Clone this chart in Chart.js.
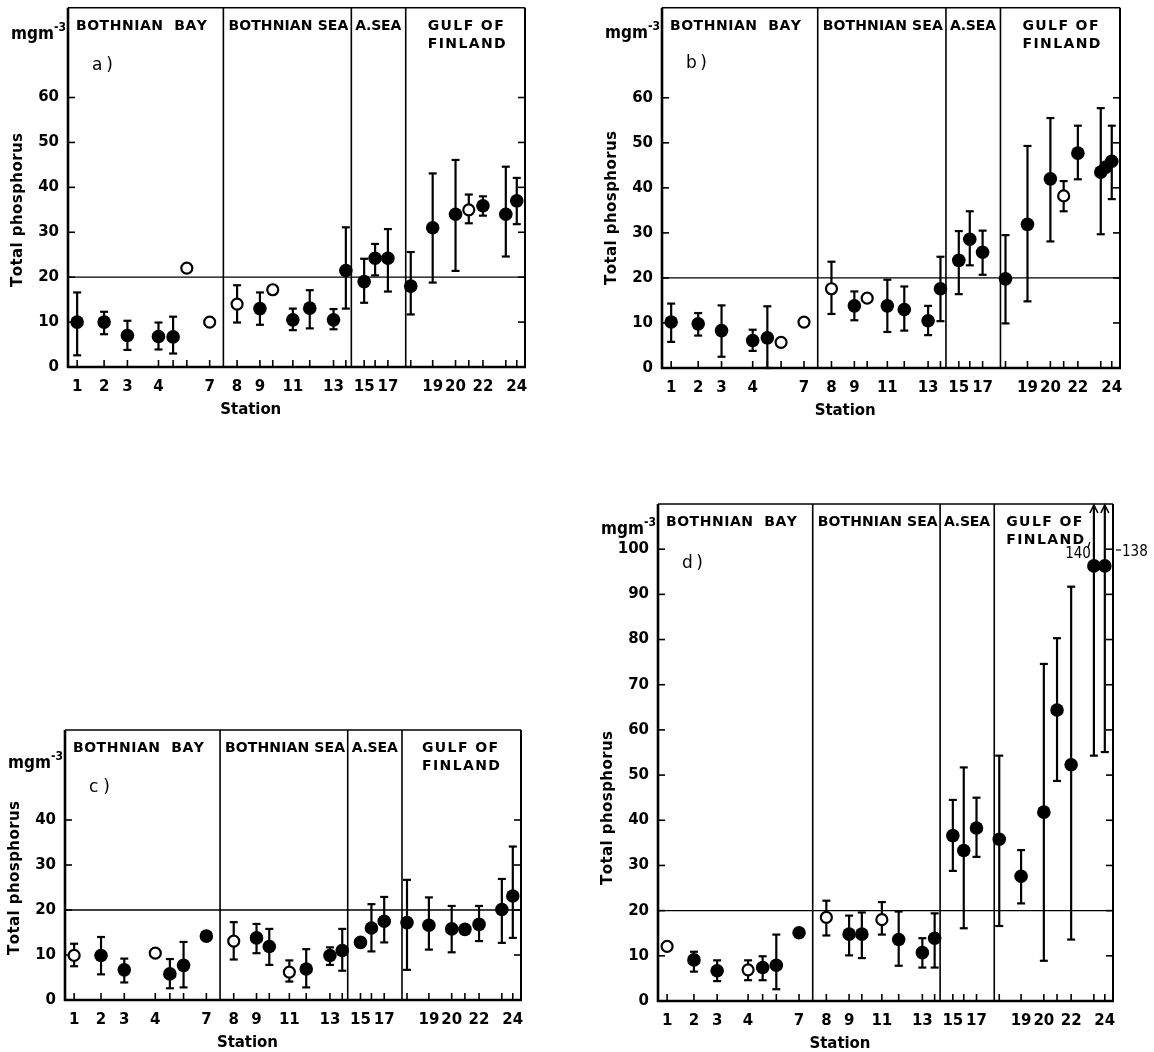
<!DOCTYPE html>
<html>
<head>
<meta charset="utf-8">
<script src="https://cdn.jsdelivr.net/npm/chart.js@4.4.1/dist/chart.umd.min.js"></script>
<style>
  html, body { margin: 0; padding: 0; background: #fff; }
  body { width: 1154px; height: 1052px; position: relative; overflow: hidden; }
  canvas { position: absolute; }
</style>
</head>
<body>
<canvas id="ca" width="580" height="430" style="left:0px;top:0px"></canvas>
<canvas id="cb" width="574" height="430" style="left:580px;top:0px"></canvas>
<canvas id="cc" width="580" height="332" style="left:0px;top:720px"></canvas>
<canvas id="cd" width="574" height="562" style="left:580px;top:490px"></canvas>
<script>
// Sampling stations along the transect and where each sits on the distance axis (0-100)
const stations = [1, 2, 3, 4, 5, 6, 7, 8, 9, 10, 11, 12, 13, 14, 15, 16, 17, 18, 19, 20, 21, 22, 23, 24];
const stationPos = [2.0, 7.9, 13.0, 19.8, 23.0, 26.0, 31.0, 37.0, 42.0, 44.8, 49.2, 52.9, 58.1, 60.8,
                    64.8, 67.2, 70.0, 75.0, 79.8, 84.8, 87.7, 90.8, 95.8, 98.2];
const labelledStations = [1, 2, 3, 4, 7, 8, 9, 11, 13, 15, 17, 19, 20, 22, 24];
// Boundaries between the basins on the distance axis
const basinBounds = [34.0, 62.0, 73.9];
const basinNames = ['BOTHNIAN  BAY', 'BOTHNIAN SEA', 'A.SEA', 'GULF OF', 'FINLAND'];
const refLevel = 20;

// a) total phosphorus, mg m-3 (mean, lower and upper bar ends; 1 = open symbol)
const aMean = [10.0, 10.0, 7.0, 6.8, 6.7, 22.0, 10.0, 14.0, 13.0, 17.2, 10.5, 13.1, 10.5, 21.5,
               19.0, 24.2, 24.2, 18.0, 31.0, 34.0, 35.0, 35.9, 34.0, 37.0];
const aLow  = [2.6, 7.3, 3.8, 3.9, 3.0, null, null, 9.9, 9.4, null, 8.2, 8.6, 8.4, 13.0,
               14.3, 20.4, 16.8, 11.7, 18.8, 21.4, 32.0, 33.7, 24.6, 31.8];
const aHigh = [16.6, 12.3, 10.3, 9.9, 11.2, null, null, 18.2, 16.6, null, 13.0, 17.1, 12.9, 31.1,
               24.1, 27.4, 30.7, 25.6, 43.1, 46.1, 38.4, 38.0, 44.6, 42.1];
const aOpen = [0, 0, 0, 0, 0, 1, 1, 1, 0, 1, 0, 0, 0, 0, 0, 0, 0, 0, 0, 0, 1, 0, 0, 0];

// b)
const bMean = [10.2, 9.8, 8.3, 6.1, 6.7, 5.7, 10.2, 17.6, 13.8, 15.5, 13.8, 13.0, 10.5, 17.6,
               23.9, 28.6, 25.7, 19.8, 31.9, 42.0, 38.2, 47.7, 43.5, 45.9];
const bLow  = [5.8, 7.2, 2.5, 3.8, 0.0, null, null, 12.0, 10.6, null, 8.0, 8.3, 7.3, 10.4,
               16.4, 22.8, 20.7, 9.9, 14.8, 28.1, 34.8, 41.9, 29.7, 37.5];
const bHigh = [14.3, 12.2, 13.9, 8.5, 13.7, null, null, 23.6, 17.0, null, 19.6, 18.1, 13.8, 24.7,
               30.4, 34.8, 30.5, 29.5, 49.3, 55.5, 41.5, 53.8, 57.7, 53.8];
const bOpen = [0, 0, 0, 0, 0, 1, 1, 1, 0, 1, 0, 0, 0, 0, 0, 0, 0, 0, 0, 0, 1, 0, 0, 0];
// an additional sample between stations 23 and 24
const bExtraPos  = [96.9];
const bExtraMean = [44.6];

// c)
const cMean = [9.9, 9.9, 6.7, 10.4, 5.8, 7.7, 14.2, 13.1, 13.8, 11.9, 6.2, 6.9, 9.9, 11.0,
               12.8, 16.0, 17.5, 17.2, 16.6, 15.8, 15.7, 16.8, 20.1, 23.1];
const cLow  = [7.5, 5.7, 3.9, null, 2.6, 2.8, null, 9.0, 10.4, 7.8, 4.1, 2.8, 7.8, 6.5,
               null, 10.8, 12.8, 6.7, 11.2, 10.6, null, 13.1, 12.7, 13.8];
const cHigh = [12.5, 14.0, 9.2, null, 9.1, 12.9, null, 17.3, 16.9, 15.8, 8.8, 11.3, 11.7, 15.8,
               null, 21.3, 22.9, 26.7, 22.8, 20.9, null, 20.9, 26.9, 34.1];
const cOpen = [1, 0, 0, 1, 0, 0, 0, 1, 0, 0, 1, 0, 0, 0, 0, 0, 0, 0, 0, 0, 0, 0, 0, 0];

// d)
const dMean = [12.1, 9.1, 6.7, 6.9, 7.4, 7.9, 15.1, 18.5, 14.8, 14.8, 18.0, 13.6, 10.7, 13.9,
               36.6, 33.3, 38.3, 35.8, 27.6, 41.8, 64.4, 52.3, 96.3, 96.3];
const dLow  = [null, 6.5, 4.4, 4.6, 4.6, 2.6, null, 14.5, 10.1, 9.5, 14.7, 7.8, 7.4, 7.4,
               28.8, 16.1, 31.9, 16.6, 21.6, 8.9, 48.7, 13.6, 54.3, 55.1];
const dHigh = [null, 10.9, 9.0, 9.0, 9.9, 14.7, null, 22.2, 18.9, 19.6, 21.9, 19.8, 13.9, 19.4,
               44.5, 51.7, 45.0, 54.3, 33.4, 74.6, 80.3, 91.7, 140, 138];
const dOpen = [1, 0, 0, 1, 0, 0, 0, 1, 0, 0, 1, 0, 0, 0, 0, 0, 0, 0, 0, 0, 0, 0, 0, 0];

const FAMILY = '"DejaVu Sans", sans-serif';
const NARROW = '"DejaVu Sans Condensed", "DejaVu Sans", sans-serif';

// Layout of each panel inside its canvas (plot frame in canvas pixels, text offsets)
const layouts = {
  a: { canvas: 'ca', tag: 'a)', area: { l: 68, r: 525, t: 6,  b: 367 }, yMax: 80,  yLabelMax: 60,  unitDy: 31, tagDy: 62, titleUp: 157, gofDx: 22 },
  b: { canvas: 'cb', tag: 'b)', area: { l: 82, r: 540, t: 7,  b: 368 }, yMax: 80,  yLabelMax: 60,  unitDy: 30, tagDy: 60, titleUp: 160, gofDx: 22 },
  c: { canvas: 'cc', tag: 'c)', area: { l: 65, r: 521, t: 10, b: 280 }, yMax: 60,  yLabelMax: 40,  unitDy: 38, tagDy: 62, titleUp: 122, gofDx: 20 },
  d: { canvas: 'cd', tag: 'd)', area: { l: 78, r: 533, t: 14, b: 511 }, yMax: 110, yLabelMax: 100, unitDy: 30, tagDy: 64, titleUp: 193, gofDx: 12 }
};

function seg(ctx, x1, y1, x2, y2, w) {
  ctx.lineWidth = w;
  ctx.beginPath();
  ctx.moveTo(x1, y1);
  ctx.lineTo(x2, y2);
  ctx.stroke();
}

// Writes a string letter by letter so that it spans the given width
function spacedText(ctx, text, x, y, width, align) {
  const chars = Array.from(text);
  const widths = chars.map(ch => ctx.measureText(ch).width);
  const natural = widths.reduce((s, w) => s + w, 0);
  const gap = chars.length > 1 ? (width - natural) / (chars.length - 1) : 0;
  let cx = align === 'center' ? x - width / 2 : (align === 'right' ? x - width : x);
  ctx.textAlign = 'left';
  chars.forEach((ch, i) => { ctx.fillText(ch, cx, y); cx += widths[i] + gap; });
}

function panelPlugin(P, mean, low, high) {
  return {
    id: 'panelDecor',
    beforeDatasetsDraw(chart) {
      const { ctx, chartArea: A, scales: { x, y } } = chart;
      ctx.save();
      ctx.strokeStyle = '#000';
      ctx.fillStyle = '#000';
      ctx.lineCap = 'butt';

      // 20 mg m-3 level
      const yRef = y.getPixelForValue(refLevel);
      seg(ctx, A.left, yRef, A.right, yRef, 1.3);

      // basin boundaries
      basinBounds.forEach(v => {
        const px = x.getPixelForValue(v);
        seg(ctx, px, A.top, px, A.bottom, 1.6);
      });

      // frame
      seg(ctx, A.left, A.top, A.right, A.top, 1.4);
      seg(ctx, A.right, A.top, A.right, A.bottom, 2.0);
      seg(ctx, A.left, A.top, A.left, A.bottom + 1, 2.6);
      seg(ctx, A.left - 1, A.bottom, A.right + 1, A.bottom, 2.6);

      // inward tick marks
      stationPos.forEach(v => {
        const px = x.getPixelForValue(v);
        seg(ctx, px, A.bottom, px, A.bottom - 7, 1.6);
      });
      y.ticks.forEach(t => {
        const py = y.getPixelForValue(t.value);
        seg(ctx, A.left, py, A.left + 7, py, 1.6);
        seg(ctx, A.right - 7, py, A.right, py, 1.6);
      });

      // range bars
      mean.forEach((m, i) => {
        if (low[i] == null || high[i] == null) return;
        const px = x.getPixelForValue(stationPos[i]);
        const pLo = y.getPixelForValue(low[i]);
        const over = high[i] > y.max;
        const pHi = over ? A.top + 1 : y.getPixelForValue(high[i]);
        seg(ctx, px, pLo, px, pHi, 2.2);
        seg(ctx, px - 4, pLo, px + 4, pLo, 2.2);
        if (!over) {
          seg(ctx, px - 4, pHi, px + 4, pHi, 2.2);
          return;
        }
        // bar continues beyond the frame: arrow head and the value it reaches
        ctx.lineWidth = 1.6;
        ctx.beginPath();
        ctx.moveTo(px - 4, A.top + 9);
        ctx.lineTo(px, A.top + 1);
        ctx.lineTo(px + 4, A.top + 9);
        ctx.stroke();
        ctx.font = `15px ${NARROW}`;
        ctx.textBaseline = 'alphabetic';
        if (i === mean.length - 1) {
          seg(ctx, A.right + 3, A.top + 46, A.right + 8, A.top + 46, 1.2);
          ctx.textAlign = 'left';
          ctx.fillText(String(high[i]), A.right + 9, A.top + 52);
        } else {
          seg(ctx, px - 6, A.top + 44, px - 4, A.top + 38, 1.2);
          ctx.textAlign = 'right';
          ctx.fillText(String(high[i]), px - 3, A.top + 54);
        }
      });
      ctx.restore();
    },
    afterDraw(chart) {
      const { ctx, chartArea: A, scales: { x } } = chart;
      ctx.save();
      ctx.fillStyle = '#000';
      ctx.textBaseline = 'alphabetic';

      // concentration unit
      ctx.font = `bold 17px ${NARROW}`;
      spacedText(ctx, 'mgm', A.left - 57, A.top + P.unitDy, 43, 'left');
      ctx.font = `bold 12px ${NARROW}`;
      ctx.textAlign = 'left';
      ctx.fillText('-3', A.left - 14, A.top + P.unitDy - 8);

      // panel letter
      ctx.font = `17px ${FAMILY}`;
      spacedText(ctx, P.tag, A.left + 24, A.top + P.tagDy, 21, 'left');

      // basin names
      ctx.font = `bold 14px ${FAMILY}`;
      const b1 = x.getPixelForValue(basinBounds[0]);
      const b2 = x.getPixelForValue(basinBounds[1]);
      const b3 = x.getPixelForValue(basinBounds[2]);
      const yName = A.top + 22;
      spacedText(ctx, basinNames[0], A.left + 8, yName, 131, 'left');
      spacedText(ctx, basinNames[1], b1 + 5, yName, 120, 'left');
      spacedText(ctx, basinNames[2], b2 + 4, yName, 46, 'left');
      spacedText(ctx, basinNames[3], b3 + P.gofDx, yName, 76, 'left');
      spacedText(ctx, basinNames[4], b3 + P.gofDx, yName + 18, 78, 'left');

      // axis titles
      ctx.font = `bold 15px ${FAMILY}`;
      spacedText(ctx, 'Station', x.getPixelForValue(40), A.bottom + 47, 61, 'center');
      ctx.translate(A.left - 50, A.bottom - P.titleUp);
      ctx.rotate(-Math.PI / 2);
      ctx.textBaseline = 'middle';
      spacedText(ctx, 'Total phosphorus', 0, 0, 154, 'center');
      ctx.restore();
    }
  };
}

function drawPanel(P, mean, low, high, open, extraPos, extraMean) {
  const el = document.getElementById(P.canvas);
  const W = el.width, H = el.height;
  const hollow = [], solid = [];
  mean.forEach((v, i) => (open[i] ? hollow : solid).push({ x: stationPos[i], y: v }));
  (extraPos || []).forEach((p, i) => solid.push({ x: p, y: extraMean[i] }));
  const tickFont = { family: FAMILY, size: 15, weight: 'bold' };

  new Chart(el, {
    type: 'scatter',
    data: {
      datasets: [
        { data: hollow, pointRadius: 5.5, pointBackgroundColor: '#fff', pointBorderColor: '#000', pointBorderWidth: 2.2 },
        { data: solid, pointRadius: 6.8, pointBackgroundColor: '#000', pointBorderColor: '#000', pointBorderWidth: 0 }
      ]
    },
    options: {
      responsive: false,
      animation: false,
      events: [],
      layout: { padding: { left: 0, top: P.area.t, right: W - P.area.r, bottom: 0 } },
      plugins: { legend: { display: false }, tooltip: { enabled: false } },
      scales: {
        x: {
          type: 'linear', min: 0, max: 100,
          grid: { display: false, drawTicks: false },
          border: { display: false },
          afterBuildTicks: s => { s.ticks = labelledStations.map(n => ({ value: stationPos[stations.indexOf(n)] })); },
          ticks: {
            autoSkip: false, maxRotation: 0, minRotation: 0, padding: 11,
            font: tickFont, color: '#000',
            callback: (v, i) => String(labelledStations[i])
          },
          afterFit: s => { s.height = H - P.area.b; s.paddingLeft = 0; s.paddingRight = 0; }
        },
        y: {
          type: 'linear', min: 0, max: P.yMax,
          grid: { display: false, drawTicks: false },
          border: { display: false },
          afterBuildTicks: s => {
            const t = [];
            for (let v = 0; v <= P.yLabelMax; v += 10) t.push({ value: v });
            s.ticks = t;
          },
          ticks: { padding: 9, font: tickFont, color: '#000', callback: v => String(v) },
          afterFit: s => { s.width = P.area.l; s.paddingTop = 0; s.paddingBottom = 0; }
        }
      }
    },
    plugins: [panelPlugin(P, mean, low, high)]
  });
}

drawPanel(layouts.a, aMean, aLow, aHigh, aOpen);
drawPanel(layouts.b, bMean, bLow, bHigh, bOpen, bExtraPos, bExtraMean);
drawPanel(layouts.c, cMean, cLow, cHigh, cOpen);
drawPanel(layouts.d, dMean, dLow, dHigh, dOpen);
</script>
</body>
</html>
